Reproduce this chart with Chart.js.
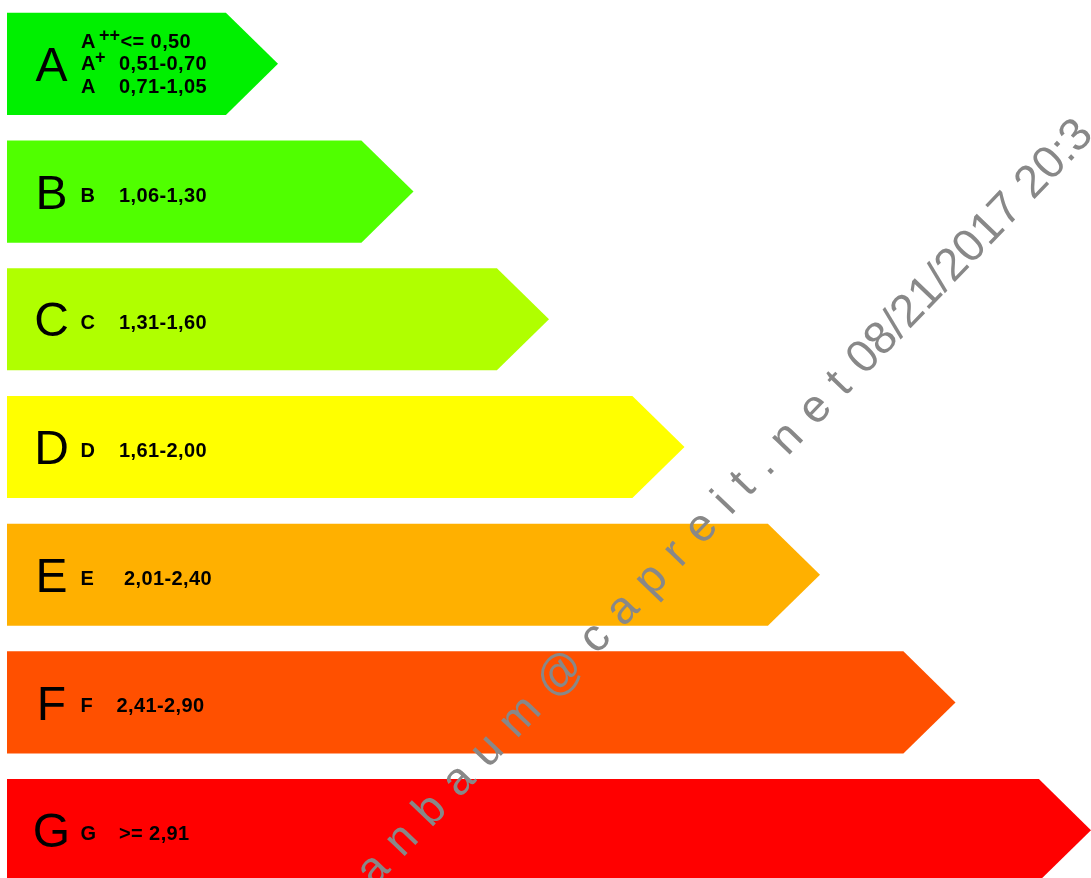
<!DOCTYPE html>
<html>
<head>
<meta charset="utf-8">
<script src="https://cdn.jsdelivr.net/npm/chart.js@4/dist/chart.umd.min.js"></script>
<style>
  html, body { margin: 0; padding: 0; background: #ffffff; overflow: hidden; }
  #wrap { position: relative; width: 1091px; height: 894px; }
</style>
</head>
<body>
<div id="wrap"><canvas id="chart"></canvas></div>
<script>
// ---- data ----
const classes = ['A', 'B', 'C', 'D', 'E', 'F', 'G'];
const arrowLengths = [2, 3, 4, 5, 6, 7, 8];
const classColors = ['#00f000', '#50ff00', '#b0ff00', '#ffff00', '#ffb000', '#ff5000', '#ff0000'];
const subClassesA = [['A', '++'], ['A', '+'], ['A', '']];
const rangesA = ['<= 0,50', '0,51-0,70', '0,71-1,05'];
const rangeLabels = ['', '1,06-1,30', '1,31-1,60', '1,61-2,00', '2,01-2,40', '2,41-2,90', '>= 2,91'];
const watermarkEmail = 'a n b a u m @ c a p r e i t . n e t';
const watermarkDate = '08/21/2017 20:3';

const FONT = '"Liberation Sans", Arial, Helvetica, sans-serif';

const arrowPlugin = {
  id: 'energyArrows',
  beforeDatasetDraw(chart, args) {
    const ctx = chart.ctx;
    const ds = chart.data.datasets[args.index];
    ctx.save();
    args.meta.data.forEach((bar, i) => {
      const p = bar.getProps(['x', 'y', 'base', 'height'], true);
      const h = p.height;
      const tip = h * 0.51;
      ctx.beginPath();
      ctx.moveTo(p.base, p.y - h / 2);
      ctx.lineTo(p.x - tip, p.y - h / 2);
      ctx.lineTo(p.x, p.y);
      ctx.lineTo(p.x - tip, p.y + h / 2);
      ctx.lineTo(p.base, p.y + h / 2);
      ctx.closePath();
      ctx.fillStyle = ds.backgroundColor[i];
      ctx.fill();
    });
    ctx.restore();
    return false;
  },
  afterDatasetsDraw(chart) {
    const ctx = chart.ctx;
    const left = chart.chartArea.left;
    const meta = chart.getDatasetMeta(0);
    ctx.save();
    ctx.fillStyle = '#000000';
    meta.data.forEach((bar, i) => {
      const y = bar.y;
      // big class letter
      ctx.font = '48px ' + FONT;
      ctx.textAlign = 'center';
      ctx.textBaseline = 'alphabetic';
      ctx.letterSpacing = '0px';
      ctx.fillText(classes[i], left + 44.5, y + 17.2);
      ctx.textAlign = 'left';
      if (i === 0) {
        const offs = [-16, 6, 29];
        subClassesA.forEach((s, k) => {
          ctx.font = 'bold 20px ' + FONT;
          ctx.letterSpacing = '0px';
          ctx.fillText(s[0], left + 74, y + offs[k]);
          if (s[1]) {
            ctx.font = 'bold 18px ' + FONT;
            const sx = k === 0 ? left + 92 : left + 88;
            ctx.fillText(s[1], sx, y + offs[k] - 7);
          }
          ctx.font = 'bold 20px ' + FONT;
          ctx.letterSpacing = '0.4px';
          ctx.fillText(rangesA[k], left + (k === 0 ? 113.5 : 112), y + offs[k]);
        });
      } else {
        ctx.font = 'bold 20px ' + FONT;
        ctx.letterSpacing = '0px';
        ctx.fillText(classes[i], left + 73.5, y + 10);
        ctx.letterSpacing = '0.4px';
        let rx = left + 112;
        if (i === 4) rx = left + 117;
        if (i === 5) rx = left + 109.5;
        ctx.fillText(rangeLabels[i], rx, y + 10);
      }
    });
    // watermark
    ctx.font = '46px ' + FONT;
    ctx.fillStyle = '#888888';
    ctx.translate(374, 888);
    ctx.rotate(-46.2 * Math.PI / 180);
    ctx.textAlign = 'left';
    ctx.textBaseline = 'alphabetic';
    ctx.letterSpacing = '1.4px';
    ctx.fillText(watermarkEmail, 0, 0);
    const w = ctx.measureText(watermarkEmail + ' ').width;
    ctx.letterSpacing = '0px';
    ctx.fillText(watermarkDate, w + 1, 0);
    ctx.restore();
  }
};

new Chart(document.getElementById('chart'), {
  type: 'bar',
  data: {
    labels: classes,
    datasets: [{
      label: 'Energieeffizienzklasse',
      data: arrowLengths,
      backgroundColor: classColors,
      borderWidth: 0,
      barPercentage: 0.8,
      categoryPercentage: 1.0
    }]
  },
  options: {
    indexAxis: 'y',
    responsive: true,
    maintainAspectRatio: false,
    animation: false,
    layout: { padding: { left: 7, right: 0, top: 0, bottom: 0 } },
    scales: {
      x: { display: false, min: 0, max: 8 },
      y: { display: false }
    },
    plugins: {
      legend: { display: false },
      tooltip: { enabled: false }
    }
  },
  plugins: [arrowPlugin]
});
</script>
</body>
</html>
